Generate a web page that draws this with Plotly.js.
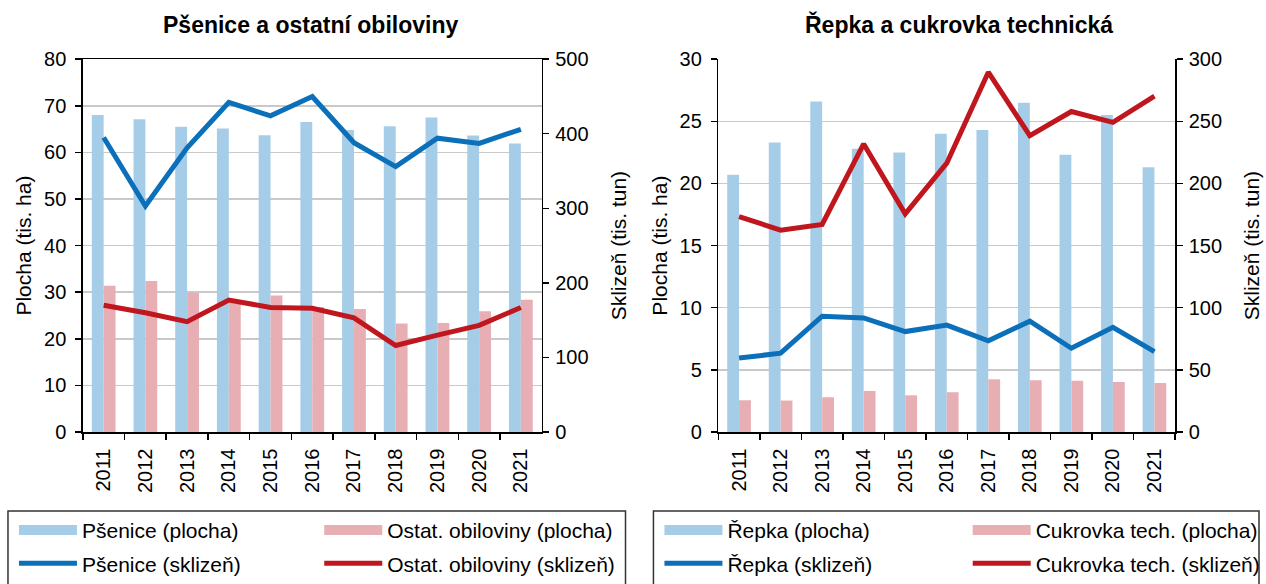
<!DOCTYPE html>
<html>
<head>
<meta charset="utf-8">
<script src="https://cdn.plot.ly/plotly-3.0.1.min.js"></script>
<style>html,body{margin:0;padding:0;background:#fff;}#chart{width:1266px;height:584px;}</style>
</head>
<body>
<div id="chart"></div>
<script>
const years = ['2011','2012','2013','2014','2015','2016','2017','2018','2019','2020','2021'];

// Left chart: Pšenice a ostatní obiloviny
const psenicePlocha   = [68.0, 67.1, 65.5, 65.1, 63.7, 66.5, 64.8, 65.6, 67.5, 63.6, 61.9];
const ostatPlocha     = [31.4, 32.4, 29.9, 28.3, 29.3, 26.8, 26.4, 23.3, 23.4, 25.9, 28.4];
const pseniceSklizen  = [395, 303, 381, 442, 424, 450, 388, 356, 394, 387, 406];
const ostatSklizen    = [170, 160, 148, 177, 167, 166, 153, 116, 130, 143, 167];

// Right chart: Řepka a cukrovka technická
const repkaPlocha     = [20.7, 23.3, 26.6, 22.8, 22.5, 24.0, 24.3, 26.5, 22.3, 25.5, 21.3];
const cukrovkaPlocha  = [2.55, 2.53, 2.80, 3.30, 2.95, 3.20, 4.24, 4.16, 4.13, 4.03, 3.95];
const repkaSklizen    = [59.5, 63.4, 93.2, 91.8, 80.8, 86.0, 73.4, 89.2, 67.4, 84.2, 64.7];
const cukrovkaSklizen = [173.4, 162.4, 167.0, 231.8, 175.5, 216.3, 289.5, 238.4, 257.9, 249.2, 270.3];

const titles = ['Pšenice a ostatní obiloviny', 'Řepka a cukrovka technická'];
const yLeftTitle = 'Plocha (tis. ha)';
const yRightTitle = 'Sklizeň (tis. tun)';

const C = {
  barBlue: '#a6cde8', barPink: '#e7afb4',
  lineBlue: '#0b6fba', lineRed: '#c0171f'
};
const FONT = 'Liberation Sans, Arial, sans-serif';

function bar(name, y, color, xa, ya) {
  return {type:'bar', name:name, x:years, y:y, xaxis:xa, yaxis:ya,
    marker:{color:color, line:{width:0}}, showlegend:false, hoverinfo:'x+y'};
}
function line(name, y, color, xa, ya, lg) {
  return {type:'scatter', mode:'lines', name:name, x:years, y:y, xaxis:xa, yaxis:ya,
    line:{color:color, width:5}, legend:lg, legendgroup:name, legendrank:2};
}
function legendSwatch(name, color, xa, ya, lg) {
  return {type:'scatter', mode:'lines', name:name, x:[null], y:[null], xaxis:xa, yaxis:ya,
    line:{color:color, width:10}, legend:lg, legendgroup:name, legendrank:1, hoverinfo:'skip'};
}

const data = [
  bar('Pšenice (plocha)', psenicePlocha, C.barBlue, 'x', 'y'),
  bar('Ostat. obiloviny (plocha)', ostatPlocha, C.barPink, 'x', 'y'),
  line('Pšenice (sklizeň)', pseniceSklizen, C.lineBlue, 'x', 'y2', 'legend'),
  line('Ostat. obiloviny (sklizeň)', ostatSklizen, C.lineRed, 'x', 'y2', 'legend2'),
  legendSwatch('Pšenice (plocha)', C.barBlue, 'x', 'y', 'legend'),
  legendSwatch('Ostat. obiloviny (plocha)', C.barPink, 'x', 'y', 'legend2'),

  bar('Řepka (plocha)', repkaPlocha, C.barBlue, 'x2', 'y3'),
  bar('Cukrovka tech. (plocha)', cukrovkaPlocha, C.barPink, 'x2', 'y3'),
  line('Řepka (sklizeň)', repkaSklizen, C.lineBlue, 'x2', 'y4', 'legend3'),
  line('Cukrovka tech. (sklizeň)', cukrovkaSklizen, C.lineRed, 'x2', 'y4', 'legend4'),
  legendSwatch('Řepka (plocha)', C.barBlue, 'x2', 'y3', 'legend3'),
  legendSwatch('Cukrovka tech. (plocha)', C.barPink, 'x2', 'y3', 'legend4')
];

const W = 1266, H = 584;
const px = v => v / W;
const py = v => 1 - v / H;
const yDom = [py(438), py(60)];
const tickFont = {family:FONT, size:20, color:'#000'};
const axTitleFont = {family:FONT, size:21, color:'#000'};

function xAxis(domain, anchor, mirror) {
  return {domain:domain, anchor:anchor, type:'category', tickson:'boundaries',
    ticks:'outside', ticklen:6, tickwidth:1.5, tickcolor:'#000', tickangle:-90,
    ticklabelstandoff:7,
    showline:true, linecolor:'#000', linewidth:1.5, mirror:mirror,
    showgrid:false, zeroline:false, tickfont:tickFont, automargin:false, fixedrange:true};
}
function yLeft(anchor, range, dtick) {
  return {domain:yDom, anchor:anchor, range:range, dtick:dtick, side:'left',
    ticks:'outside', ticklen:6, tickwidth:1.5, tickcolor:'#000', ticklabelstandoff:5,
    showline:true, linecolor:'#000', linewidth:1.5,
    showgrid:true, gridcolor:'#c9c9c9', gridwidth:1.5, zeroline:false,
    tickfont:tickFont, automargin:false, fixedrange:true,
    title:{text:yLeftTitle, font:axTitleFont, standoff:6}};
}
function yRight(anchor, overlay, range, dtick) {
  return {domain:yDom, anchor:anchor, overlaying:overlay, range:range, dtick:dtick, side:'right',
    ticks:'outside', ticklen:6, tickwidth:1.5, tickcolor:'#000', ticklabelstandoff:2,
    showline:true, linecolor:'#000', linewidth:1.5,
    showgrid:false, zeroline:false,
    tickfont:tickFont, automargin:false, fixedrange:true,
    title:{text:yRightTitle, font:axTitleFont, standoff:23}};
}
function legendAt(x, y) {
  return {x:x, y:y, xanchor:'left', yanchor:'top', orientation:'v',
    bgcolor:'rgba(0,0,0,0)', borderwidth:0, itemwidth:58, tracegroupgap:3,
    traceorder:'grouped', font:{family:FONT, size:21, color:'#000'}, itemclick:false, itemdoubleclick:false};
}

const layout = {
  width:W, height:H,
  margin:{l:0, r:0, t:0, b:0},
  paper_bgcolor:'#fff', plot_bgcolor:'#fff',
  font:{family:FONT, color:'#000'},
  barmode:'group', bargap:0.43, bargroupgap:0,
  showlegend:true,
  xaxis: xAxis([px(83), px(543)], 'y', true),
  yaxis: yLeft('x', [0, 80], 10),
  yaxis2: yRight('x', 'y', [0, 500], 100),
  xaxis2: xAxis([px(720), px(1178)], 'y3', false),
  yaxis3: yLeft('x2', [0, 30], 5),
  yaxis4: yRight('x2', 'y3', [0, 300], 50),
  legend: legendAt(px(14), py(517)),
  legend2: legendAt(px(320), py(517)),
  legend3: legendAt(px(661), py(517)),
  legend4: legendAt(px(970), py(517)),
  annotations: [
    {text:'<b>' + titles[0] + '</b>', xref:'paper', yref:'paper', x:px(311), y:py(25),
     xanchor:'center', yanchor:'middle', showarrow:false, font:{family:FONT, size:23, color:'#000'}},
    {text:'<b>' + titles[1] + '</b>', xref:'paper', yref:'paper', x:px(961), y:py(25),
     xanchor:'center', yanchor:'middle', showarrow:false, font:{family:FONT, size:23, color:'#000'}}
  ],
  shapes: [
    {type:'rect', xref:'paper', yref:'paper', x0:px(8), x1:px(627), y0:py(600), y1:py(518),
     line:{color:'#333', width:1.5}, fillcolor:'rgba(0,0,0,0)', layer:'below'},
    {type:'rect', xref:'paper', yref:'paper', x0:px(655), x1:px(1262), y0:py(600), y1:py(518),
     line:{color:'#333', width:1.5}, fillcolor:'rgba(0,0,0,0)', layer:'below'}
  ]
};

Plotly.newPlot('chart', data, layout, {displayModeBar:false, staticPlot:true});
</script>
</body>
</html>
